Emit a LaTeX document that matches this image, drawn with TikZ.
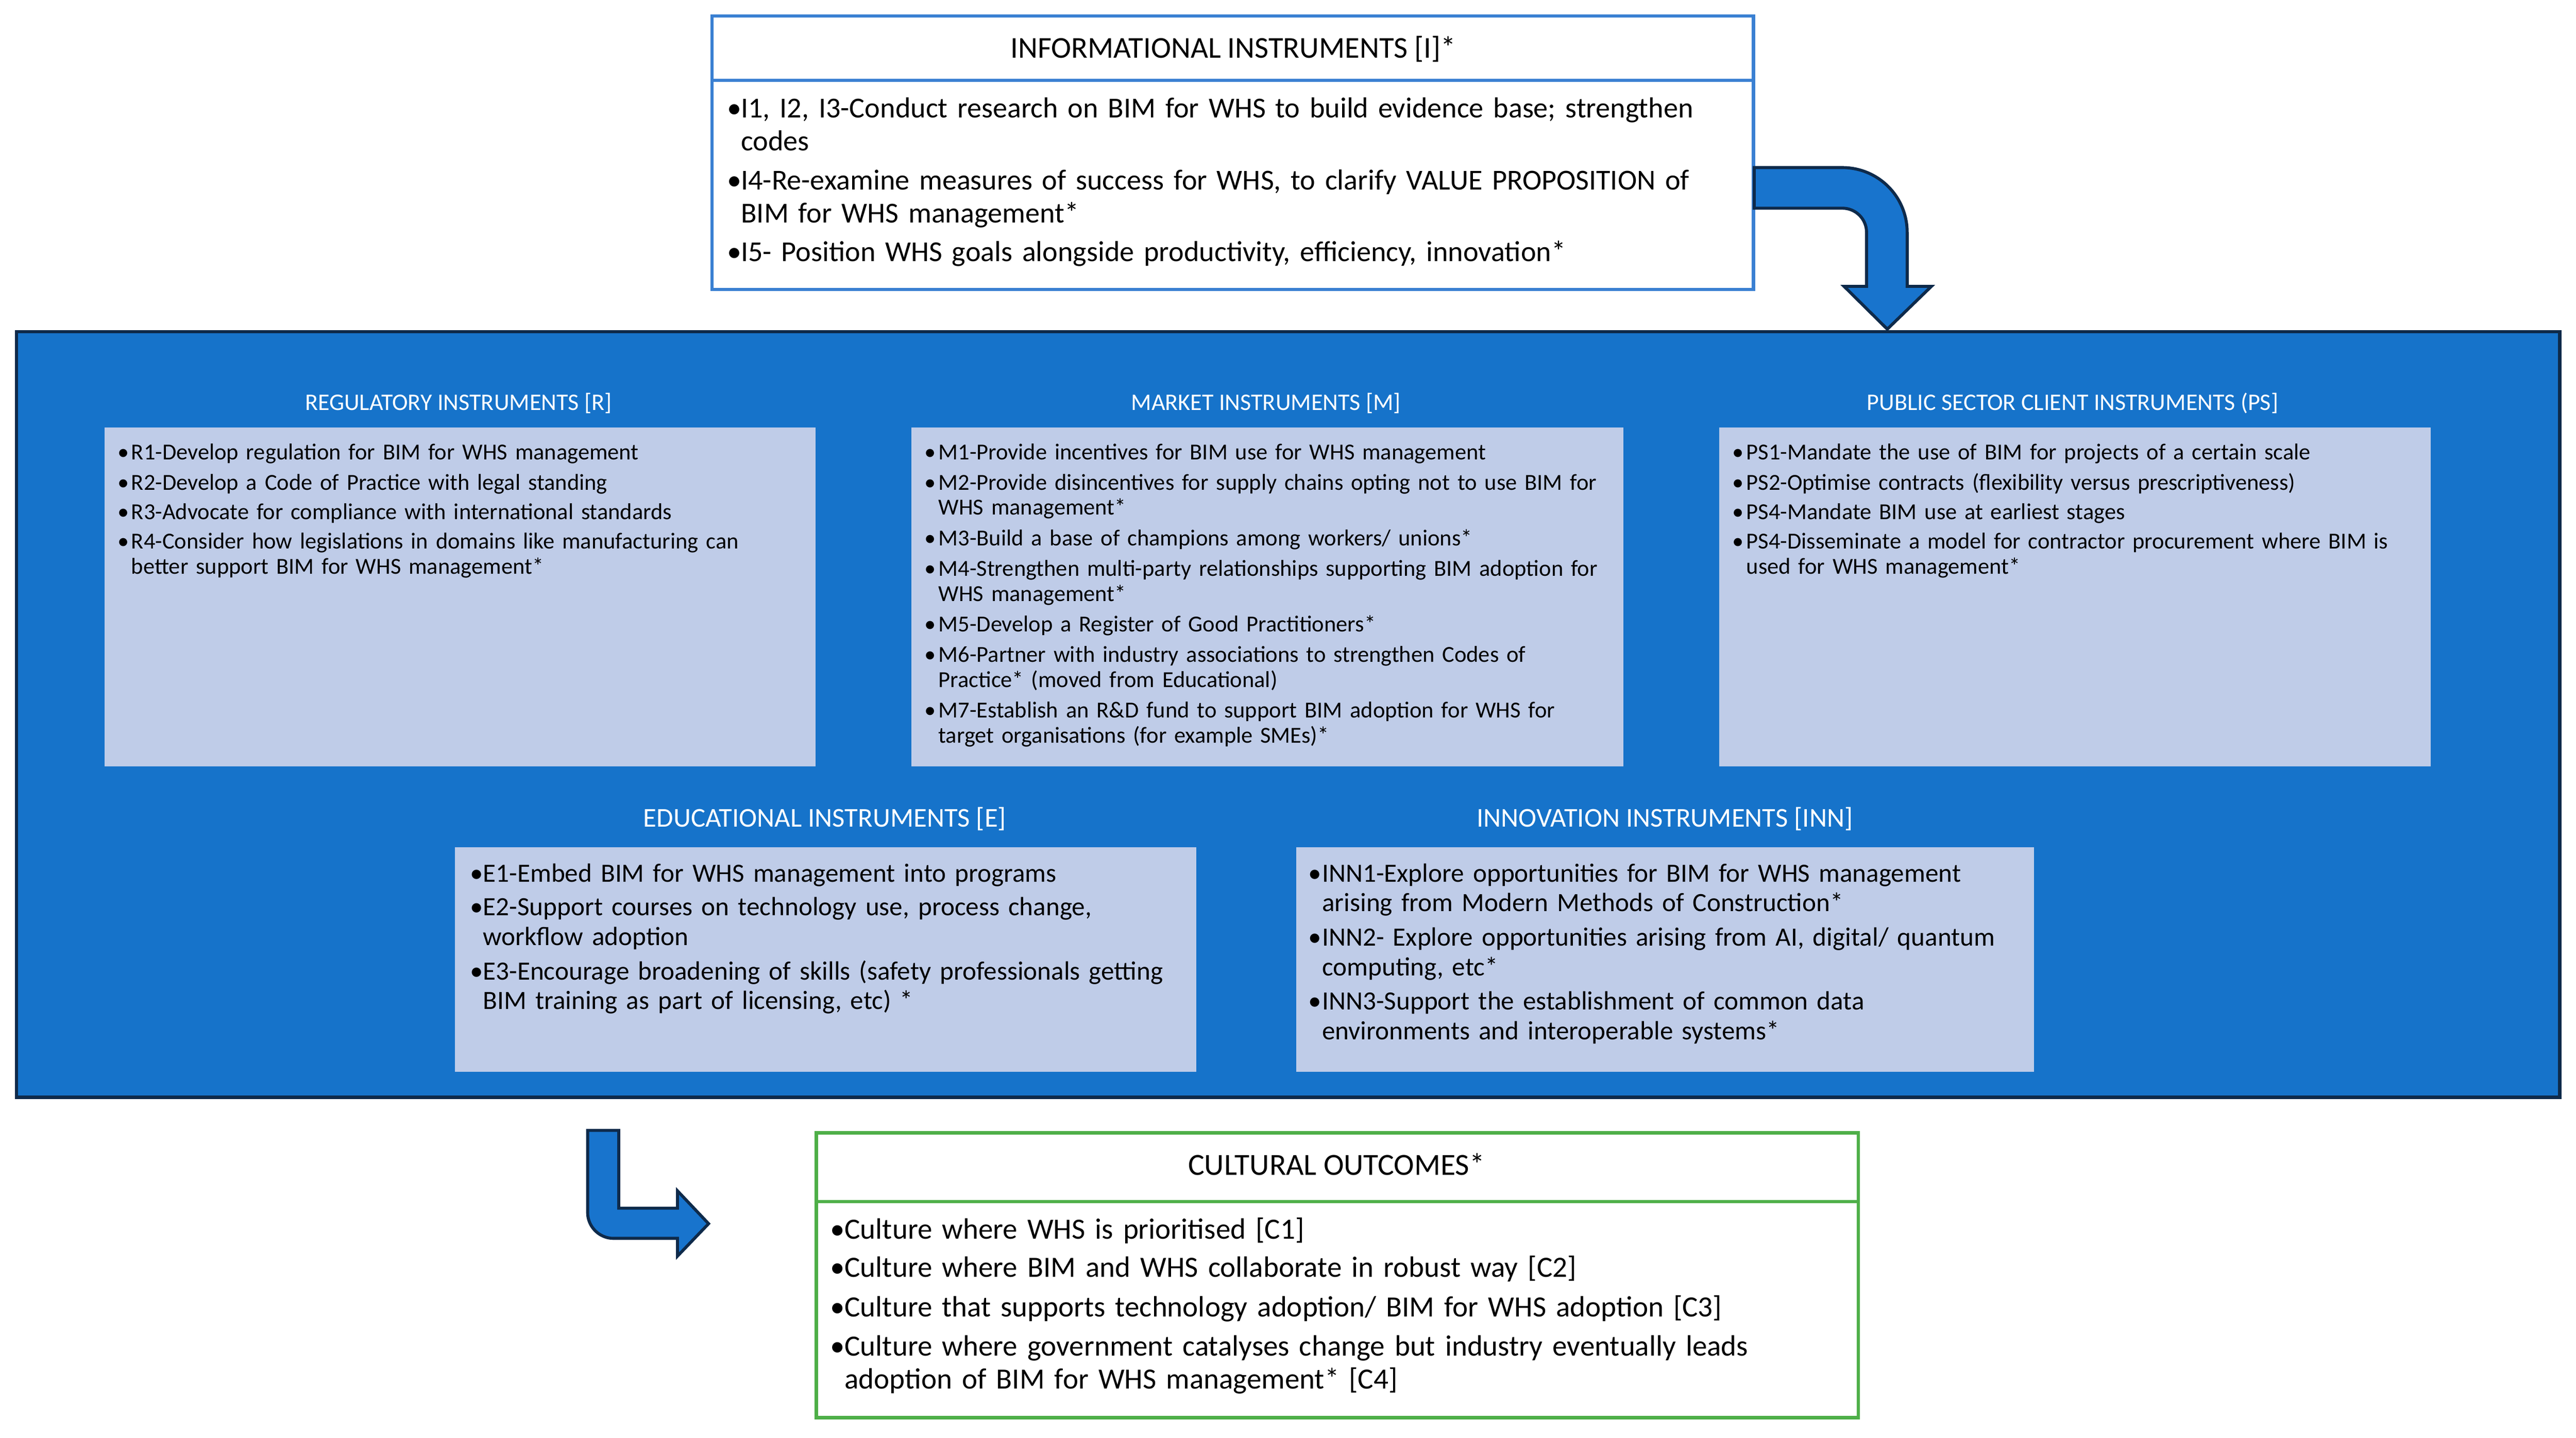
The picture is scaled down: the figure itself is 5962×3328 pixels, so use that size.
\documentclass[tikz,border=0pt]{standalone}
\usepackage{fontspec}
\setmainfont{Carlito}
\definecolor{mainblue}{HTML}{1673CA}
\definecolor{navy}{HTML}{0E2A4A}
\definecolor{lav}{HTML}{BFCCE8}
\definecolor{topblue}{HTML}{3A80D2}
\definecolor{grn}{HTML}{4EAF48}
\definecolor{arrowblue}{HTML}{1874CD}
\begin{document}
\begin{tikzpicture}[x=1pt,y=-1pt,
  boxnode/.style={anchor=north west, inner sep=0, outer sep=0},
  bul/.style={anchor=base west, inner sep=0, outer sep=0},
  itm/.style={anchor=base west, inner sep=0, outer sep=0, align=left, text width=2400pt},
  ttl/.style={anchor=base, inner sep=0, outer sep=0},
  fI/.style={font=\fontsize{67}{77}\selectfont},
  fIt/.style={font=\fontsize{70}{77}\selectfont},
  fS/.style={font=\fontsize{53}{58}\selectfont},
  fSt/.style={font=\fontsize{55}{60}\selectfont, text=white},
  fE/.style={font=\fontsize{61}{68.5}\selectfont},
  fEt/.style={font=\fontsize{63}{68}\selectfont, text=white},
  fC/.style={font=\fontsize{68}{76}\selectfont},
  fCt/.style={font=\fontsize{71}{76}\selectfont},
  blockarrow/.style={fill=arrowblue, draw=navy, line width=7pt, line join=miter}
]
\useasboundingbox (0,0) rectangle (5962,3328);
\fill[white] (0,0) rectangle (5962,3328);

% ---------- informational box ----------
\node[boxnode, draw=topblue, line width=8pt, fill=white, minimum width=2410pt, minimum height=633pt] (info) at (1648,37) {};
\coordinate (idiv) at (0,186);
\draw[topblue, line width=8pt] (info.west |- idiv) -- (info.east |- idiv);
\node[ttl, fIt] (infot) at (2854,134) {INFORMATIONAL INSTRUMENTS [I]*};
\node[bul, fI] (i1b) at (1683,272) {•};
\node[itm, fI] (i1) at (1715,272) {I1, I2, I3-Conduct research on BIM for WHS to build evidence base; strengthen\\codes};
\node[bul, fI] (i4b) at (1683,439) {•};
\node[itm, fI] (i4) at (1715,439) {I4-Re-examine measures of success for WHS, to clarify VALUE PROPOSITION of\\BIM for WHS management*};
\node[bul, fI] (i5b) at (1683,605) {•};
\node[itm, fI] (i5) at (1715,605) {I5- Position WHS goals alongside productivity, efficiency, innovation*};

% ---------- top-right block arrow ----------
\draw[blockarrow] (4060,388) -- (4264,388) .. controls (4347,388) and (4414,455) .. (4414,538)
  -- (4414,663) -- (4470,663) -- (4368,762) -- (4268,663) -- (4320,663) -- (4320,538)
  .. controls (4320,507) and (4295,482) .. (4264,482) -- (4060,482) -- cycle;

% ---------- main blue box ----------
\node[boxnode, draw=navy, line width=8pt, fill=mainblue, minimum width=5886pt, minimum height=1772pt] (main) at (38,768) {};

\node[boxnode, fill=lav, minimum width=1646pt, minimum height=784pt] (rbox) at (242,990) {};
\node[boxnode, fill=lav, minimum width=1648pt, minimum height=784pt] (mbox) at (2109,990) {};
\node[boxnode, fill=lav, minimum width=1647pt, minimum height=784pt] (pbox) at (3979,990) {};
\node[boxnode, fill=lav, minimum width=1716pt, minimum height=519pt] (ebox) at (1053,1962) {};
\node[boxnode, fill=lav, minimum width=1708pt, minimum height=519pt] (nbox) at (3000,1962) {};

\node[ttl, fSt] (rt) at (1061,950) {REGULATORY INSTRUMENTS [R]};
\node[ttl, fSt] (mt) at (2930,950) {MARKET INSTRUMENTS [M]};
\node[ttl, fSt] (pt) at (4797,950) {PUBLIC SECTOR CLIENT INSTRUMENTS (PS]};

% R items
\node[bul, fS] (r1b) at (272,1064) {•};
\node[itm, fS] (r1) at (304,1064) {R1-Develop regulation for BIM for WHS management};
\node[bul, fS] (r2b) at (272,1134) {•};
\node[itm, fS] (r2) at (304,1134) {R2-Develop a Code of Practice with legal standing};
\node[bul, fS] (r3b) at (272,1203) {•};
\node[itm, fS] (r3) at (304,1203) {R3-Advocate for compliance with international standards};
\node[bul, fS] (r4b) at (272,1271) {•};
\node[itm, fS] (r4) at (304,1271) {R4-Consider how legislations in domains like manufacturing can\\better support BIM for WHS management*};

% M items
\node[bul, fS] (m1b) at (2140,1064) {•};
\node[itm, fS] (m1) at (2172,1064) {M1-Provide incentives for BIM use for WHS management};
\node[bul, fS] (m2b) at (2140,1134) {•};
\node[itm, fS] (m2) at (2172,1134) {M2-Provide disincentives for supply chains opting not to use BIM for\\WHS management*};
\node[bul, fS] (m3b) at (2140,1263) {•};
\node[itm, fS] (m3) at (2172,1263) {M3-Build a base of champions among workers/ unions*};
\node[bul, fS] (m4b) at (2140,1334) {•};
\node[itm, fS] (m4) at (2172,1334) {M4-Strengthen multi-party relationships supporting BIM adoption for\\WHS management*};
\node[bul, fS] (m5b) at (2140,1462) {•};
\node[itm, fS] (m5) at (2172,1462) {M5-Develop a Register of Good Practitioners*};
\node[bul, fS] (m6b) at (2140,1533) {•};
\node[itm, fS] (m6) at (2172,1533) {M6-Partner with industry associations to strengthen Codes of\\Practice* (moved from Educational)};
\node[bul, fS] (m7b) at (2140,1662) {•};
\node[itm, fS] (m7) at (2172,1662) {M7-Establish an R\&D fund to support BIM adoption for WHS for\\target organisations (for example SMEs)*};

% PS items
\node[bul, fS] (p1b) at (4009,1064) {•};
\node[itm, fS] (p1) at (4042,1064) {PS1-Mandate the use of BIM for projects of a certain scale};
\node[bul, fS] (p2b) at (4009,1134) {•};
\node[itm, fS] (p2) at (4042,1134) {PS2-Optimise contracts (flexibility versus prescriptiveness)};
\node[bul, fS] (p3b) at (4009,1203) {•};
\node[itm, fS] (p3) at (4042,1203) {PS4-Mandate BIM use at earliest stages};
\node[bul, fS] (p4b) at (4009,1271) {•};
\node[itm, fS] (p4) at (4042,1271) {PS4-Disseminate a model for contractor procurement where BIM is\\used for WHS management*};

% E and INN
\node[ttl, fEt] (et) at (1909,1914) {EDUCATIONAL INSTRUMENTS [E]};
\node[ttl, fEt] (nt) at (3853,1914) {INNOVATION INSTRUMENTS [INN]};

\node[bul, fE] (e1b) at (1088,2042) {•};
\node[itm, fE] (e1) at (1118,2042) {E1-Embed BIM for WHS management into programs};
\node[bul, fE] (e2b) at (1088,2120) {•};
\node[itm, fE] (e2) at (1118,2120) {E2-Support courses on technology use, process change,\\workflow adoption};
\node[bul, fE] (e3b) at (1088,2268) {•};
\node[itm, fE] (e3) at (1118,2268) {E3-Encourage broadening of skills (safety professionals getting\\BIM training as part of licensing, etc) *};

\node[bul, fE] (n1b) at (3028,2042) {•};
\node[itm, fE] (n1) at (3060,2042) {INN1-Explore opportunities for BIM for WHS management\\arising from Modern Methods of Construction*};
\node[bul, fE] (n2b) at (3028,2190) {•};
\node[itm, fE] (n2) at (3060,2190) {INN2- Explore opportunities arising from AI, digital/ quantum\\computing, etc*};
\node[bul, fE] (n3b) at (3028,2338) {•};
\node[itm, fE] (n3) at (3060,2338) {INN3-Support the establishment of common data\\environments and interoperable systems*};

% ---------- bottom-left block arrow ----------
\draw[blockarrow] (1360,2617) -- (1432,2617) -- (1432,2797) -- (1568,2797) -- (1568,2757)
  -- (1640,2833) -- (1568,2908) -- (1568,2867) -- (1420,2867)
  .. controls (1387,2867) and (1360,2840) .. (1360,2807) -- cycle;

% ---------- cultural outcomes ----------
\node[boxnode, draw=grn, line width=8pt, fill=white, minimum width=2412pt, minimum height=659pt] (cult) at (1889,2623) {};
\coordinate (cdiv) at (0,2782);
\draw[grn, line width=8pt] (cult.west |- cdiv) -- (cult.east |- cdiv);
\node[ttl, fCt] (ct) at (3093,2720) {CULTURAL OUTCOMES*};
\node[bul, fC] (c1b) at (1921,2868) {•};
\node[itm, fC] (c1) at (1955,2868) {Culture where WHS is prioritised [C1]};
\node[bul, fC] (c2b) at (1921,2956) {•};
\node[itm, fC] (c2) at (1955,2956) {Culture where BIM and WHS collaborate in robust way [C2]};
\node[bul, fC] (c3b) at (1921,3048) {•};
\node[itm, fC] (c3) at (1955,3048) {Culture that supports technology adoption/ BIM for WHS adoption [C3]};
\node[bul, fC] (c4b) at (1921,3139) {•};
\node[itm, fC] (c4) at (1955,3139) {Culture where government catalyses change but industry eventually leads\\adoption of BIM for WHS management* [C4]};
\end{tikzpicture}
\end{document}
